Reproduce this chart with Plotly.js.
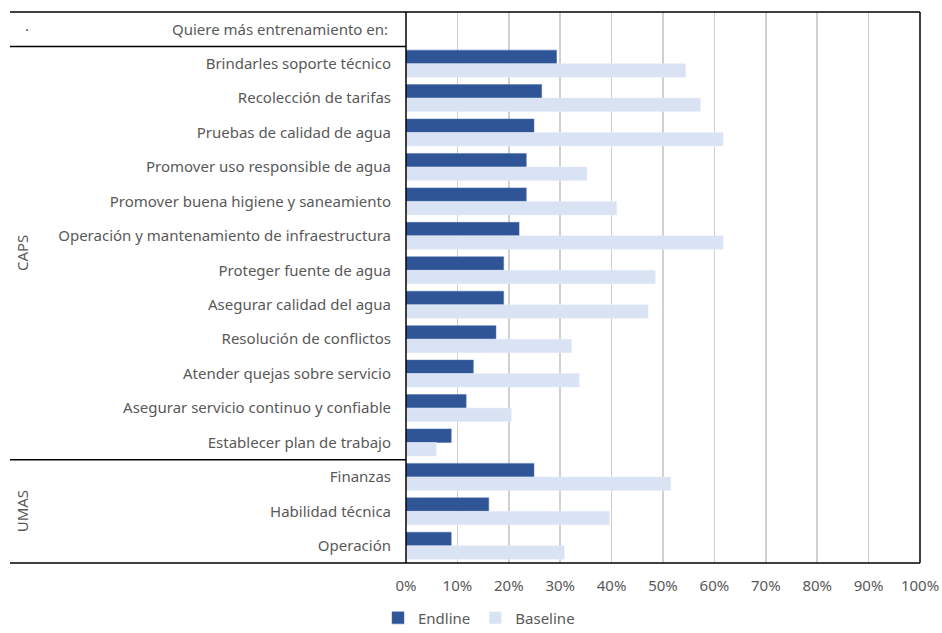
<!DOCTYPE html>
<html>
<head>
<meta charset="utf-8">
<script src="https://cdn.plot.ly/plotly-3.0.1.min.js"></script>
<style>html,body{margin:0;padding:0;background:#fff;}#chart{width:942px;height:633px;}</style>
</head>
<body>
<div id="chart"></div>
<script>
const categories = [
  "Brindarles soporte técnico",
  "Recolección de tarifas",
  "Pruebas de calidad de agua",
  "Promover uso responsible de agua",
  "Promover buena higiene y saneamiento",
  "Operación y mantenamiento de infraestructura",
  "Proteger fuente de agua",
  "Asegurar calidad del agua",
  "Resolución de conflictos",
  "Atender quejas sobre servicio",
  "Asegurar servicio continuo y confiable",
  "Establecer plan de trabajo",
  "Finanzas",
  "Habilidad técnica",
  "Operación"
];
const endline  = [0.293, 0.264, 0.249, 0.234, 0.234, 0.220, 0.190, 0.190, 0.175, 0.131, 0.117, 0.088, 0.249, 0.161, 0.088];
const baseline = [0.544, 0.573, 0.617, 0.352, 0.410, 0.617, 0.485, 0.471, 0.322, 0.337, 0.205, 0.059, 0.515, 0.396, 0.308];
const groups = [{name: "CAPS", first: 0, last: 11}, {name: "UMAS", first: 12, last: 14}];
const headerText = "Quiere más entrenamiento en:";
const xTicks = [0, 0.1, 0.2, 0.3, 0.4, 0.5, 0.6, 0.7, 0.8, 0.9, 1.0];

const FONT = "Noto Sans, Open Sans, sans-serif";
const FS = 15;
const GRAY = "#595959";
const LEFT_EDGE = (10 - 406) / 514;

const traces = [
  {type: "bar", orientation: "h", name: "Endline", y: categories, x: endline,
   marker: {color: "#2F5597", line: {color: "#4a6fb0", width: 0.5}}, hoverinfo: "x+y"},
  {type: "bar", orientation: "h", name: "Baseline", y: categories, x: baseline,
   marker: {color: "#DAE3F3", line: {color: "#e6ecf7", width: 0.5}}, hoverinfo: "x+y"}
];

const n = categories.length;
const shapes = [
  {type: "line", xref: "paper", yref: "paper", x0: LEFT_EDGE, x1: 1, y0: 1, y1: 1, line: {color: "#000", width: 1.5}},
  {type: "line", xref: "paper", yref: "paper", x0: LEFT_EDGE, x1: 1, y0: 0, y1: 0, line: {color: "#000", width: 1.5}},
  {type: "line", xref: "paper", yref: "paper", x0: 0, x1: 0, y0: 0, y1: 1, line: {color: "#000", width: 1.5}},
  {type: "line", xref: "paper", yref: "paper", x0: 1, x1: 1, y0: 0, y1: 1, line: {color: "#000", width: 1.5}},
  {type: "line", xref: "paper", yref: "y", x0: LEFT_EDGE, x1: 0, y0: -0.5, y1: -0.5, line: {color: "#000", width: 1.5}}
];
groups.forEach((g, i) => {
  if (i > 0) {
    shapes.push({type: "line", xref: "paper", yref: "y", x0: LEFT_EDGE, x1: 0,
      y0: g.first - 0.5, y1: g.first - 0.5, line: {color: "#000", width: 1.5}});
  }
});

const annotations = [
  {xref: "paper", yref: "y", x: 0, y: -1, xanchor: "right", yanchor: "middle", xshift: -16,
   text: headerText, showarrow: false, font: {family: FONT, size: FS, color: GRAY}},
  {xref: "paper", yref: "y", x: (27 - 406) / 514, y: -1, xanchor: "center", yanchor: "middle",
   text: "·", showarrow: false, font: {family: FONT, size: FS, color: GRAY}}
];
groups.forEach(g => {
  annotations.push({xref: "paper", yref: "y", x: (22 - 406) / 514, y: (g.first + g.last) / 2,
    xanchor: "center", yanchor: "middle", textangle: -90, text: g.name, showarrow: false,
    font: {family: FONT, size: FS, color: GRAY}});
});

const layout = {
  width: 942, height: 633,
  margin: {l: 406, r: 22, t: 12, b: 70, autoexpand: false},
  paper_bgcolor: "#fff", plot_bgcolor: "#fff",
  barmode: "group", bargap: 0.215, bargroupgap: 0,
  font: {family: FONT, size: FS, color: GRAY},
  xaxis: {range: [0, 1], tickvals: xTicks, tickformat: ".0%", showgrid: true,
    gridcolor: "#d0d0d0", gridwidth: 1.5, zeroline: false, showline: false,
    ticks: "", ticklabelstandoff: 12, tickfont: {family: FONT, size: FS, color: GRAY}, fixedrange: true},
  yaxis: {type: "category", categoryorder: "array", categoryarray: categories,
    range: [n - 0.5, -1.5], showgrid: false, zeroline: false, showline: false, ticks: "",
    ticklabelstandoff: 14, tickfont: {family: FONT, size: FS, color: GRAY}, fixedrange: true},
  showlegend: true,
  legend: {orientation: "h", x: (479 - 406) / 514, xanchor: "center", y: -0.1, yanchor: "middle",
    font: {family: FONT, size: FS, color: GRAY}, traceorder: "normal", itemwidth: 30},
  shapes: shapes,
  annotations: annotations
};

Plotly.newPlot("chart", traces, layout, {displayModeBar: false, staticPlot: true});
</script>
</body>
</html>
